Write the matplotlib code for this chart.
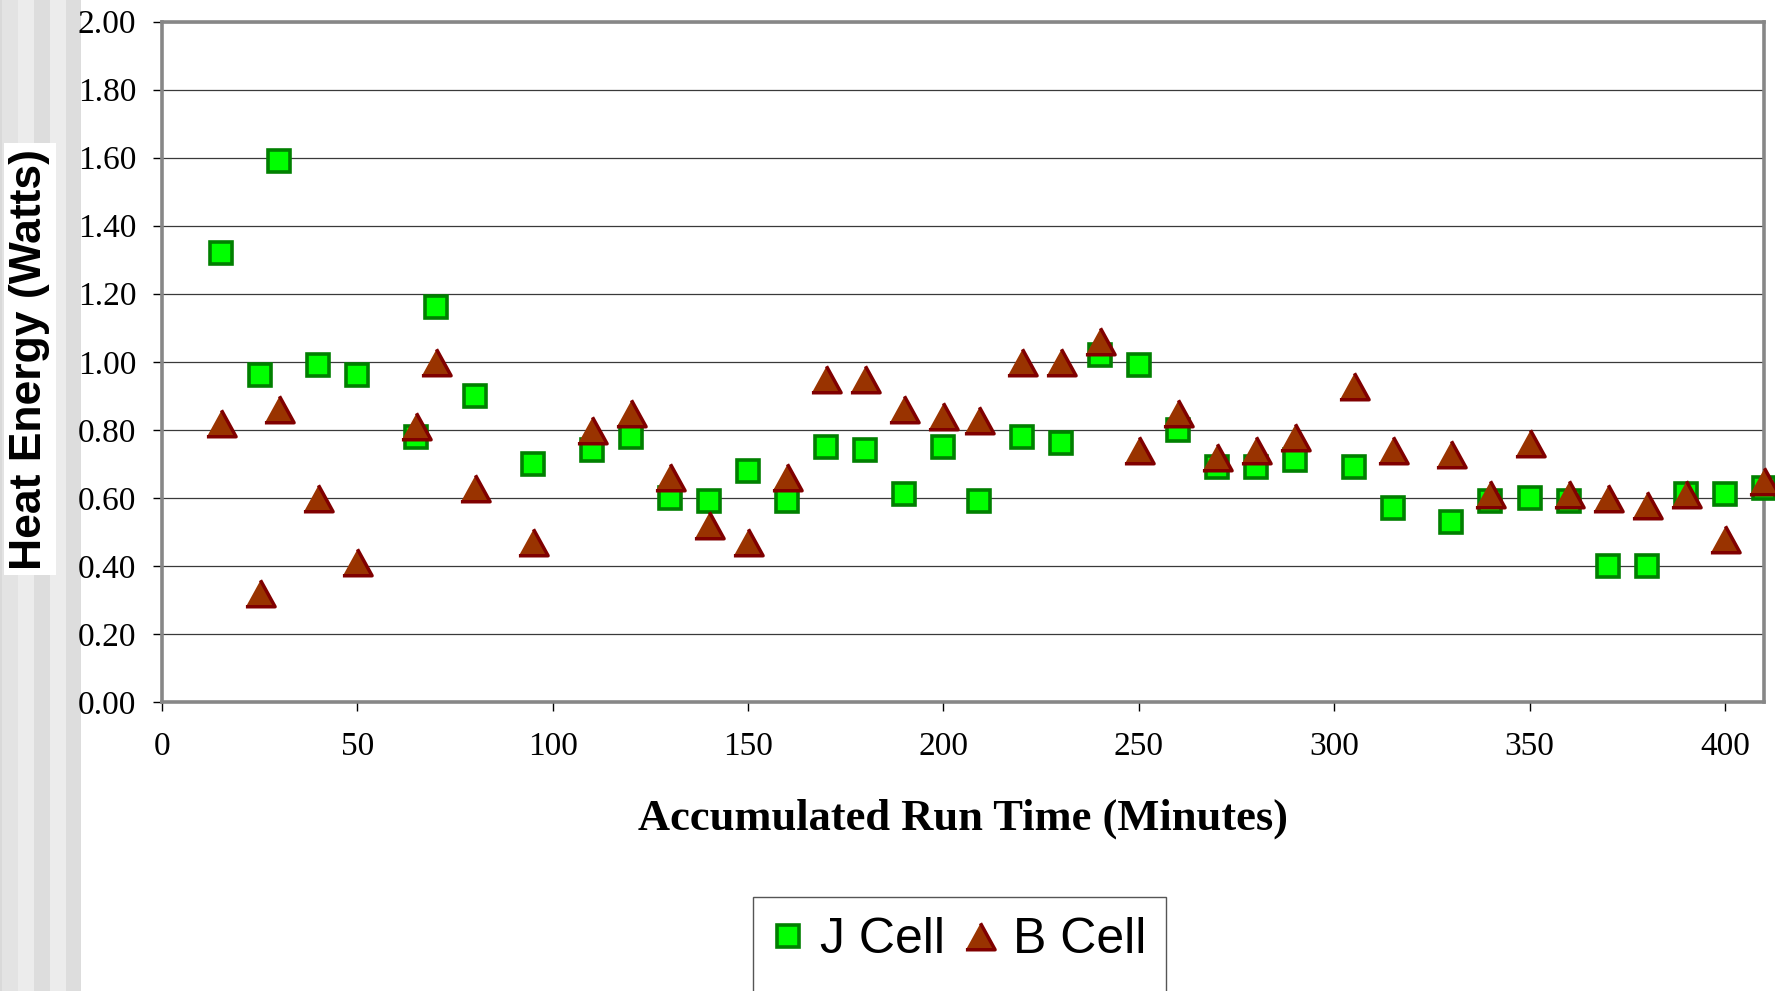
import matplotlib
matplotlib.use("Agg")
import matplotlib.pyplot as plt
from matplotlib.patches import Rectangle
from matplotlib.markers import MarkerStyle
from matplotlib.lines import Line2D

# run time (minutes) and heat energy (W) for the two cells
j_time = [15, 25, 30, 40, 50, 65, 70, 80, 95, 110, 120, 130, 140, 150, 160,
          170, 180, 190, 200, 209, 220, 230, 240, 250, 260, 270, 280, 290,
          305, 315, 330, 340, 350, 360, 370, 380, 390, 400, 410]
j_heat = [1.32, 0.96, 1.59, 0.99, 0.96, 0.78, 1.16, 0.90, 0.70, 0.74, 0.78,
          0.60, 0.59, 0.68, 0.59, 0.75, 0.74, 0.61, 0.75, 0.59, 0.78, 0.76,
          1.02, 0.99, 0.80, 0.69, 0.69, 0.71, 0.69, 0.57, 0.53, 0.59, 0.60,
          0.59, 0.40, 0.40, 0.61, 0.61, 0.63]

b_time = [15, 25, 30, 40, 50, 65, 70, 80, 95, 110, 120, 130, 140, 150, 160,
          170, 180, 190, 200, 209, 220, 230, 240, 250, 260, 270, 280, 290,
          305, 315, 330, 340, 350, 360, 370, 380, 390, 400, 410]
b_heat = [0.82, 0.32, 0.86, 0.60, 0.41, 0.81, 1.00, 0.63, 0.47, 0.80, 0.85,
          0.66, 0.52, 0.47, 0.66, 0.95, 0.95, 0.86, 0.84, 0.83, 1.00, 1.00,
          1.06, 0.74, 0.85, 0.72, 0.74, 0.78, 0.93, 0.74, 0.73, 0.61, 0.76,
          0.61, 0.60, 0.58, 0.61, 0.48, 0.65]

x_ticks = [0, 50, 100, 150, 200, 250, 300, 350, 400]
y_ticks = [0.0, 0.2, 0.4, 0.6, 0.8, 1.0, 1.2, 1.4, 1.6, 1.8, 2.0]

W, H = 1775, 991
fig = plt.figure(figsize=(W / 100, H / 100), dpi=100)
fig.patch.set_facecolor("white")

# grey striped band down the left edge
stripes = [(0, 2, "#d9d9d9"), (2, 18, "#e3e3e3"), (18, 34, "#ececec"),
           (34, 50, "#dddddd"), (50, 66, "#ececec"), (66, 81, "#dddddd")]
for x0, x1, c in stripes:
    fig.add_artist(Rectangle((x0 / W, 0), (x1 - x0) / W, 1,
                             transform=fig.transFigure, facecolor=c,
                             edgecolor="none", zorder=0))

ax = fig.add_axes([162 / W, 1 - 702 / H, (1764 - 162) / W, (702 - 21.5) / H])
ax.set_xlim(0, 410)
ax.set_ylim(0, 2.0)

serif = "Liberation Serif"
tri = MarkerStyle([(-1.1, -1), (1.1, -1), (0, 1)], joinstyle="round")
sq_style = dict(linestyle="none", marker="s", ms=16.5, mfc="#00ff00",
                mec="#008000", mew=2.6)
tri_style = dict(linestyle="none", marker=tri, ms=21, mfc="#993300",
                 mec="#800000", mew=2.5)

ax.plot(j_time, j_heat, clip_on=False, zorder=4, **sq_style)
ax.plot(b_time, b_heat, clip_on=False, zorder=5, **tri_style)

ax.set_xticks(x_ticks)
ax.set_yticks(y_ticks)
ax.set_yticklabels([f"{v:.2f}" for v in y_ticks])
ax.yaxis.grid(True, color="#3a3a3a", linewidth=0.9)
ax.set_axisbelow(True)
ax.tick_params(axis="both", direction="out", length=6.5, width=1.0,
               color="black", labelsize=24, labelcolor="black")
ax.tick_params(axis="x", pad=15)
ax.tick_params(axis="y", pad=12)
for lab in ax.get_xticklabels() + ax.get_yticklabels():
    lab.set_fontfamily(serif)

for sp in ax.spines.values():
    sp.set_color("#878787")
    sp.set_linewidth(2.6)

ax.set_xlabel("Accumulated Run Time (Minutes)", fontfamily=serif,
              fontweight="bold", fontsize=32, labelpad=26)

fig.text(30 / W, 1 - 359 / H, "Heat Energy (Watts)", rotation=90,
         ha="center", va="center", fontsize=32, fontweight="bold",
         fontfamily="Liberation Sans", color="black",
         bbox=dict(facecolor="white", edgecolor="none",
                   boxstyle="square,pad=0.12"))

# legend box runs off the bottom of the figure
fig.add_artist(Rectangle((753 / W, -0.05), (1166 - 753) / W, 0.05 + 1 - 897 / H,
                         transform=fig.transFigure, facecolor="white",
                         edgecolor="#555555", linewidth=1.0, zorder=1))
handles = [Line2D([], [], **sq_style), Line2D([], [], **tri_style)]
fig.legend(handles, ["J Cell", "B Cell"], loc="center",
           bbox_to_anchor=(957 / W, 1 - 940 / H), ncol=2, frameon=False,
           prop={"family": "Liberation Sans", "size": 36},
           handlelength=0.8, handletextpad=0.25, columnspacing=0.3,
           numpoints=1, borderpad=0.0)

fig.savefig("out.png", dpi=100)
